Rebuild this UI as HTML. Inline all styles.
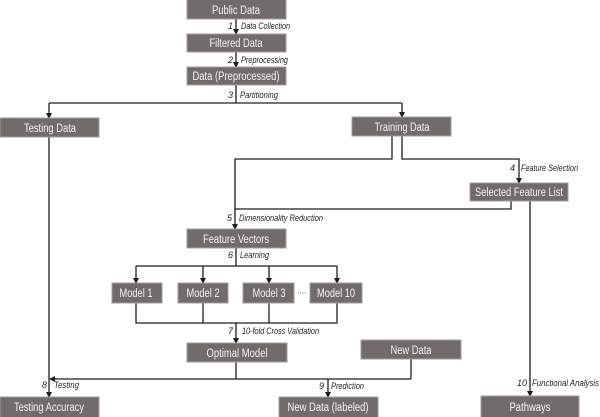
<!DOCTYPE html>
<html><head><meta charset="utf-8"><style>
html,body{margin:0;padding:0;background:#fff;}
svg{display:block;}
.b{fill:#716c69;stroke:#a29d9a;stroke-width:1;}
.t{font-family:"Liberation Sans",sans-serif;font-size:11.5px;fill:#f4f4f4;text-anchor:middle;}
.l{font-family:"Liberation Sans",sans-serif;font-size:9px;font-style:italic;fill:#222;}
.n{font-family:"Liberation Sans",sans-serif;font-size:9px;font-style:italic;fill:#222;text-anchor:end;}
.c{stroke:#1e1e1e;stroke-width:1.3;fill:none;}
</style></head><body>
<svg width="600" height="417" viewBox="0 0 600 417" xmlns="http://www.w3.org/2000/svg">
<defs>
<marker id="a" markerWidth="6" markerHeight="6" refX="5" refY="3" orient="auto" markerUnits="userSpaceOnUse">
<path d="M0,0 L6,3 L0,6 z" fill="#1e1e1e"/>
</marker>
</defs>

<!-- connectors -->
<line class="c" x1="236" y1="19" x2="236" y2="34" marker-end="url(#a)"/>
<line class="c" x1="236" y1="52" x2="236" y2="67" marker-end="url(#a)"/>
<polyline class="c" points="236,85 236,103"/>
<polyline class="c" points="49,103 402,103"/>
<line class="c" x1="49" y1="103" x2="49" y2="118" marker-end="url(#a)"/>
<line class="c" x1="402" y1="103" x2="402" y2="117" marker-end="url(#a)"/>
<polyline class="c" points="392,136 392,159 235,159 235,229" marker-end="url(#a)"/>
<polyline class="c" points="402,136 402,159 519,159 519,183" marker-end="url(#a)"/>
<polyline class="c" points="511,201 511,209 235,209"/>
<polyline class="c" points="236,248 236,266"/>
<polyline class="c" points="136,266 337,266"/>
<line class="c" x1="136" y1="266" x2="136" y2="283" marker-end="url(#a)"/>
<line class="c" x1="203" y1="266" x2="203" y2="283" marker-end="url(#a)"/>
<line class="c" x1="269" y1="266" x2="269" y2="283" marker-end="url(#a)"/>
<line class="c" x1="337" y1="266" x2="337" y2="283" marker-end="url(#a)"/>
<polyline class="c" points="136,303 136,323 337,323 337,303"/>
<polyline class="c" points="203,303 203,323"/>
<polyline class="c" points="269,303 269,323"/>
<line class="c" x1="236" y1="323" x2="236" y2="343" marker-end="url(#a)"/>
<polyline class="c" points="236,362 236,379"/>
<line class="c" x1="411" y1="379" x2="50" y2="379" marker-end="url(#a)"/>
<line class="c" x1="49" y1="137" x2="49" y2="397" marker-end="url(#a)"/>
<polyline class="c" points="411,359 411,379"/>
<line class="c" x1="328" y1="379" x2="328" y2="397" marker-end="url(#a)"/>
<line class="c" x1="530" y1="201" x2="530" y2="396" marker-end="url(#a)"/>

<!-- boxes -->
<rect class="b" x="187" y="-1" width="99" height="20"/>
<text class="t" x="236" y="14" textLength="48" lengthAdjust="spacingAndGlyphs">Public Data</text>
<rect class="b" x="187" y="34" width="99" height="18"/>
<text class="t" x="236" y="47" textLength="53" lengthAdjust="spacingAndGlyphs">Filtered Data</text>
<rect class="b" x="187" y="67" width="99" height="18"/>
<text class="t" x="236" y="80" textLength="87" lengthAdjust="spacingAndGlyphs">Data (Preprocessed)</text>
<rect class="b" x="0" y="118" width="99" height="19"/>
<text class="t" x="50" y="132" textLength="52" lengthAdjust="spacingAndGlyphs">Testing Data</text>
<rect class="b" x="352" y="117" width="99" height="19"/>
<text class="t" x="402" y="131" textLength="55" lengthAdjust="spacingAndGlyphs">Training Data</text>
<rect class="b" x="470" y="183" width="98" height="18"/>
<text class="t" x="519" y="196" textLength="88" lengthAdjust="spacingAndGlyphs">Selected Feature List</text>
<rect class="b" x="187" y="229" width="99" height="19"/>
<text class="t" x="236" y="243" textLength="66" lengthAdjust="spacingAndGlyphs">Feature Vectors</text>
<rect class="b" x="112" y="283" width="50" height="20"/>
<text class="t" x="136" y="297" textLength="33" lengthAdjust="spacingAndGlyphs">Model 1</text>
<rect class="b" x="178" y="283" width="50" height="20"/>
<text class="t" x="203" y="297" textLength="33" lengthAdjust="spacingAndGlyphs">Model 2</text>
<rect class="b" x="243" y="283" width="51" height="20"/>
<text class="t" x="269" y="297" textLength="33" lengthAdjust="spacingAndGlyphs">Model 3</text>
<rect class="b" x="310" y="283" width="52" height="20"/>
<text class="t" x="336" y="297" textLength="38" lengthAdjust="spacingAndGlyphs">Model 10</text>
<line x1="298" y1="293" x2="307" y2="293" stroke="#777" stroke-width="1" stroke-dasharray="1,1.2"/>
<rect class="b" x="187" y="343" width="100" height="19"/>
<text class="t" x="237" y="357" textLength="61" lengthAdjust="spacingAndGlyphs">Optimal Model</text>
<rect class="b" x="361" y="340" width="100" height="19"/>
<text class="t" x="411" y="354" textLength="41" lengthAdjust="spacingAndGlyphs">New Data</text>
<rect class="b" x="0" y="397" width="99" height="21"/>
<text class="t" x="49" y="411" textLength="70" lengthAdjust="spacingAndGlyphs">Testing Accuracy</text>
<rect class="b" x="279" y="397" width="99" height="21"/>
<text class="t" x="328" y="411" textLength="81" lengthAdjust="spacingAndGlyphs">New Data (labeled)</text>
<rect class="b" x="481" y="396" width="98" height="22"/>
<text class="t" x="530" y="411" textLength="41" lengthAdjust="spacingAndGlyphs">Pathways</text>

<!-- labels -->
<text class="n" x="233" y="29">1</text>
<text class="l" x="241" y="29" textLength="49" lengthAdjust="spacingAndGlyphs">Data Collection</text>
<text class="n" x="233" y="63">2</text>
<text class="l" x="241" y="63" textLength="47" lengthAdjust="spacingAndGlyphs">Preprocessing</text>
<text class="n" x="233" y="98">3</text>
<text class="l" x="240" y="98" textLength="38" lengthAdjust="spacingAndGlyphs">Partitioning</text>
<text class="n" x="515" y="171">4</text>
<text class="l" x="521" y="171" textLength="57" lengthAdjust="spacingAndGlyphs">Feature Selection</text>
<text class="n" x="232" y="221">5</text>
<text class="l" x="239" y="221" textLength="84" lengthAdjust="spacingAndGlyphs">Dimensionality Reduction</text>
<text class="n" x="233" y="258">6</text>
<text class="l" x="240" y="258" textLength="29" lengthAdjust="spacingAndGlyphs">Learning</text>
<text class="n" x="233" y="334">7</text>
<text class="l" x="242" y="334" textLength="77" lengthAdjust="spacingAndGlyphs">10-fold Cross Validation</text>
<text class="n" x="47" y="388">8</text>
<text class="l" x="54" y="388" textLength="25" lengthAdjust="spacingAndGlyphs">Testing</text>
<text class="n" x="324" y="389">9</text>
<text class="l" x="331" y="389" textLength="33" lengthAdjust="spacingAndGlyphs">Prediction</text>
<text class="n" x="527" y="386">10</text>
<text class="l" x="532" y="386" textLength="67" lengthAdjust="spacingAndGlyphs">Functional Analysis</text>
</svg>
</body></html>
